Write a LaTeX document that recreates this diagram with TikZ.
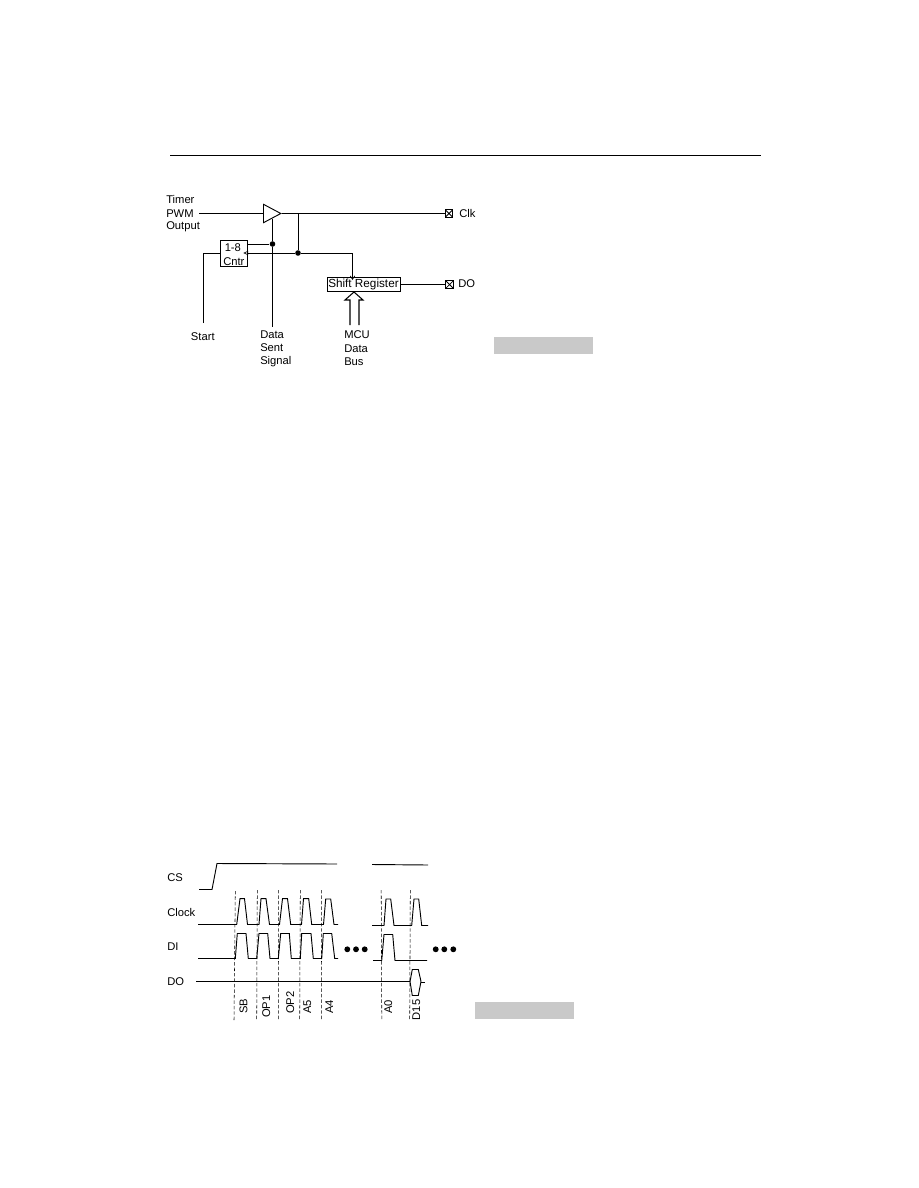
\documentclass[tikz,border=0pt]{standalone}
\usepackage{fontspec}
\setmainfont{Liberation Sans}
\usetikzlibrary{arrows.meta,shapes.geometric}
\definecolor{caption}{gray}{0.79}
\tikzset{
	lbl/.style={anchor=base west,inner sep=0pt,font=\fontsize{8.4}{10}\selectfont},
	vlbl/.style={lbl,rotate=90},
	blockbox/.style={draw,rectangle,inner sep=0pt,line width=0.7pt},
	joint/.style={circle,fill=black,inner sep=0pt,minimum size=4.2pt},
	pin/.style={draw,rectangle,inner sep=0pt,minimum size=5.6pt,line width=0.8pt,
		path picture={\draw[line width=0.6pt] (path picture bounding box.north west) -- (path picture bounding box.south east)
			(path picture bounding box.north east) -- (path picture bounding box.south west);}},
	wire/.style={line width=0.65pt},
	wave/.style={line width=0.7pt},
	guide/.style={line width=0.4pt,dash pattern=on 2.6pt off 1.5pt},
	ell/.style={circle,fill=black,inner sep=0pt,minimum size=4.4pt}
}
\begin{document}
\begin{tikzpicture}[x=0.75pt,y=-0.75pt]
	\useasboundingbox (0,0) rectangle (918,1188);

	%page rule and grey bars
	\draw[line width=0.6pt] (170,155) -- (761,155);
	\fill[caption] (494,337) rectangle (593,354);
	\fill[caption] (475,1002) rectangle (574,1019);

	%serial port labels
	\node[lbl](timer) at (166,203) {Timer};
	\node[lbl](pwm) at (166,217) {PWM};
	\node[lbl](output) at (166,229) {Output};
	\node[lbl](start) at (190.7,340.5) {Start};
	\node[lbl](data) at (260,338) {Data};
	\node[lbl](sent) at (260,351.5) {Sent};
	\node[lbl](signal) at (260,364.5) {Signal};
	\node[lbl](mcu) at (344,338.5) {MCU};
	\node[lbl](bus1) at (344,352) {Data};
	\node[lbl](bus2) at (344,365) {Bus};
	\node[lbl](clk) at (459,217) {Clk};
	\node[lbl](dout) at (458,287.3) {DO};
	%blocks
	\node[draw,isosceles triangle,isosceles triangle stretches,inner sep=0pt,minimum width=13.8pt,minimum height=13pt,line width=0.7pt,anchor=lower side](amp) at (263,213.5) {};
	\node[blockbox,minimum width=19.9pt,minimum height=19.5pt,anchor=north west](cntr) at (220,240) {};
	\node[lbl](cntra) at (224.5,251) {1-8};
	\node[lbl](cntrb) at (223,265.5) {Cntr};
	\node[blockbox,minimum width=55.4pt,minimum height=10.6pt,anchor=north west](shift) at (326.5,277) {};
	\node[lbl,font=\fontsize{8.8}{10}\selectfont](shifttext) at (328,287.3) {Shift Register};
	\node[pin](clkpin) at (449,213.5) {};
	\node[pin,anchor=west](dopin) at (shift.east -| 445.3,0) {};
	%joints
	\node[joint](jdata) at (272.5,244) {};
	\node[joint](jclk) at (298,253) {};
	\coordinate (pwmend) at (199,213.5);
	\coordinate (ampfoot) at (272.5,218.5);
	\coordinate (jtop) at (298,213.5);
	\coordinate (corner) at (352.5,253);
	\coordinate (shifttip) at (352.5,280);
	\coordinate (cntrtip) at (243.3,253);
	\coordinate (startcorner) at (203,253);
	\coordinate (startend) at (203,323);
	\coordinate (dataend) at (272.5,327);
	%wires
	\draw[wire] (pwmend) -- (amp.lower side);
	\draw[wire] (amp.apex) -- (clkpin.west);
	\draw[wire] (ampfoot) -- (jdata) -- (dataend);
	\draw[wire] (jdata) -- (jdata -| cntr.east);
	\draw[wire] (jtop) -- (jclk);
	\draw[wire,-{Triangle[open,length=3.6pt,width=3.2pt,line width=0.5pt]}] (jclk) -- (cntrtip);
	\draw[wire,-{Straight Barb[length=2.6pt,width=3.4pt,line width=0.5pt]}] (jclk) -- (corner) -- (shifttip);
	\draw[wire] (startend) -- (startcorner) -- (cntr.west |- startcorner);
	\draw[wire] (shift.east) -- (dopin.west);
	%hollow bus arrow
	\draw[line width=0.8pt] (350,325) -- (350,300) -- (345,300) -- (354,292) -- (363,300) -- (359,300) -- (359,325);

	%timing labels
	\node[lbl](cs) at (167,881) {CS};
	\node[lbl](clock) at (167,916) {Clock};
	\node[lbl](di) at (167,950) {DI};
	\node[lbl](doline) at (167,985) {DO};
	\node[vlbl](sb) at (247.3,1014) {SB};
	\node[vlbl](opa) at (270,1018) {OP1};
	\node[vlbl](opb) at (294,1014) {OP2};
	\node[vlbl](afive) at (311,1014) {A5};
	\node[vlbl](afour) at (333,1014) {A4};
	\node[vlbl](azero) at (392,1014) {A0};
	\node[vlbl](dfifteen) at (420,1020.5) {D15};
	%guides
	\draw[guide] (235.3,891) -- (234,1020);
	\draw[guide] (257.3,890) -- (256.7,1020);
	\draw[guide] (278.7,890) -- (278.3,1020);
	\draw[guide] (300.3,890) -- (299.7,1020);
	\draw[guide] (321.7,890) -- (321.3,1020);
	\draw[guide] (381.2,890) -- (381.8,1020);
	\draw[guide] (410.3,890) -- (409.7,1020);
	%CS
	\draw[wave] (199,889.5) -- (212,889.5) -- (217,863.5) -- (337,864);
	\draw[wave] (372,864.5) -- (428,865);
	%Clock
	\draw[wave] (198,924.5) -- (236.7,924.5) -- (240,898.7) -- (244.5,898.7) -- (247.5,924.5)
		-- (259,924.5) -- (261,898.7) -- (266,898.7) -- (269.5,924.5)
		-- (279.5,924.5) -- (282.5,898.7) -- (287.5,898.7) -- (290.7,924.5)
		-- (301.5,924.5) -- (303.5,898.7) -- (308.7,898.7) -- (311.7,924.5)
		-- (323.5,924.5) -- (325.7,899) -- (330.7,899) -- (334,924.5) -- (338,924.5);
	\draw[wave] (372,925.5) -- (384,925.5) -- (386,899) -- (390.7,899) -- (394,925.5)
		-- (411.7,925.5) -- (414,899) -- (418.7,899) -- (421.7,925.5) -- (428,925.5);
	%DI
	\draw[wave] (198,958.5) -- (235.3,958.5) -- (237.3,933.5) -- (246,933.5) -- (248.3,958.5)
		-- (256.7,958.5) -- (259,933.5) -- (267.7,933.5) -- (270,958.5)
		-- (278.3,958.5) -- (280.7,933.5) -- (289.3,933.5) -- (291.3,958.5)
		-- (300.3,958.5) -- (301.7,933.5) -- (311,933.5) -- (313.3,958.5)
		-- (321.7,958.5) -- (323.3,933.5) -- (331.7,933.5) -- (334.7,958.5) -- (338,958.5);
	\draw[wave] (373,960.5) -- (381.7,960.5) -- (384,934.5) -- (392.7,934.5) -- (395,960.5) -- (427,960.5);
	%DO
	\draw[wave] (196,981.5) -- (410,981.5) -- (412.3,969.5) -- (418.3,969.5) -- (421,981.5) -- (418.3,995.5) -- (412.3,995.5) -- (410,981.5);
	\draw[wave] (421,982.5) -- (425,982.5);
	%dots
	\node[ell](dota) at (347.3,949.3) {};
	\node[ell](dotb) at (356,949.3) {};
	\node[ell](dotc) at (364.7,949.3) {};
	\node[ell](dotd) at (435.7,949.3) {};
	\node[ell](dote) at (444.3,949.3) {};
	\node[ell](dotf) at (453.3,949.3) {};
\end{tikzpicture}
\end{document}
